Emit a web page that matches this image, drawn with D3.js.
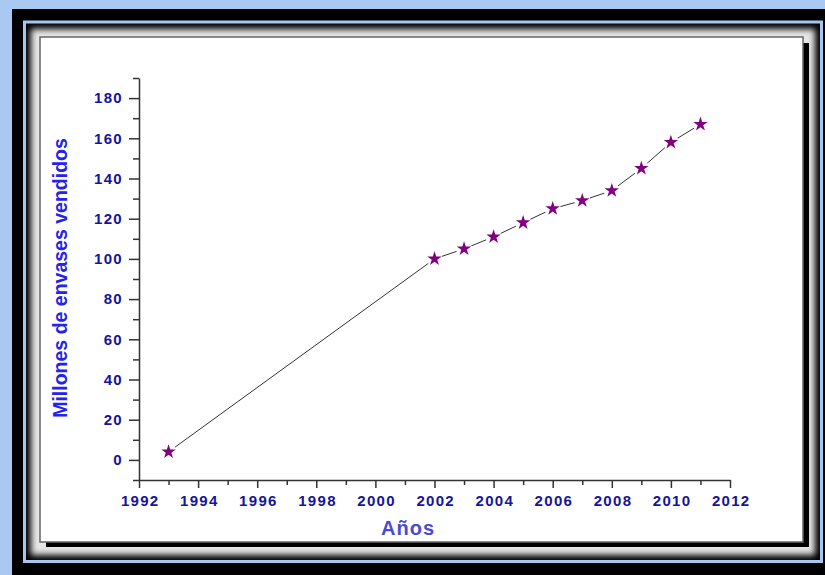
<!DOCTYPE html>
<html>
<head>
<meta charset="utf-8">
<script src="https://cdn.jsdelivr.net/npm/d3@7/dist/d3.min.js"></script>
<style>
  html, body { margin: 0; padding: 0; background: #a9c9f2; }
  svg { display: block; }
  text { font-family: "Liberation Sans", Arial, sans-serif; }
</style>
</head>
<body>
<svg id="chart" width="825" height="575"></svg>
<script>
// Sales of containers, in millions, per year
const years = [1993, 2002, 2003, 2004, 2005, 2006, 2007, 2008, 2009, 2010, 2011];
const sales = [4, 100, 105, 111, 118, 125, 129, 134, 145, 158, 167];

const yMajorTicks = [0, 20, 40, 60, 80, 100, 120, 140, 160, 180];
const yMinorTicks = [-10, 10, 30, 50, 70, 90, 110, 130, 150, 170, 190];
const xMajorTicks = [1992, 1994, 1996, 1998, 2000, 2002, 2004, 2006, 2008, 2010, 2012];
const xMinorTicks = [1993, 1995, 1997, 1999, 2001, 2003, 2005, 2007, 2009, 2011];

const xTitle = "Años";
const yTitle = "Millones de envases vendidos";

const svg = d3.select("#chart");
const defs = svg.append("defs");

// ---- decorative frame ----
defs.append("filter").attr("id", "soft")
  .attr("x", "-5%").attr("y", "-5%").attr("width", "110%").attr("height", "110%")
  .append("feGaussianBlur").attr("stdDeviation", 3);

svg.append("rect").attr("x", 0).attr("y", 0).attr("width", 825).attr("height", 575).attr("fill", "#a9c9f2");
svg.append("rect").attr("x", 12).attr("y", 9).attr("width", 830).attr("height", 580).attr("fill", "#000");
svg.append("rect").attr("x", 24.5).attr("y", 22).attr("width", 797).attr("height", 539.5)
  .attr("fill", "none").attr("stroke", "#a4c6f0").attr("stroke-width", 3);
svg.append("rect").attr("x", 31).attr("y", 29).attr("width", 784).attr("height", 526)
  .attr("fill", "#e6e6e6").attr("filter", "url(#soft)");
svg.append("rect").attr("x", 46).attr("y", 43).attr("width", 763).attr("height", 504).attr("fill", "#000");
svg.append("rect").attr("x", 40).attr("y", 37).attr("width", 763).attr("height", 505)
  .attr("fill", "#fff").attr("stroke", "#666").attr("stroke-width", 1.5);

// ---- scales ----
const x = d3.scaleLinear().domain([1992, 2012]).range([139, 730]);
const y = d3.scaleLinear().domain([-10, 190]).range([480, 78]);

const axisColor = "#333";
const labelColor = "#14149c";

function styleAxis(g) {
  g.select(".domain").attr("stroke", axisColor).attr("stroke-width", 1.5);
  g.selectAll(".tick line").attr("stroke", axisColor).attr("stroke-width", 1.5);
  g.selectAll(".tick text")
    .attr("fill", labelColor)
    .attr("font-size", 15)
    .attr("font-weight", "bold")
    .attr("letter-spacing", "1.3px");
}

// y axis: minor then major ticks
svg.append("g").attr("transform", `translate(${x(1992)},0)`)
  .call(d3.axisLeft(y).tickValues(yMinorTicks).tickSize(6).tickSizeOuter(0).tickFormat(""))
  .call(styleAxis);
svg.append("g").attr("transform", `translate(${x(1992)},0)`)
  .call(d3.axisLeft(y).tickValues(yMajorTicks).tickSize(10).tickSizeOuter(0).tickPadding(6).tickFormat(d3.format("d")))
  .call(styleAxis)
  .call(g => g.select(".domain").remove());

// x axis: minor then major ticks
svg.append("g").attr("transform", `translate(0,${y(-10)})`)
  .call(d3.axisBottom(x).tickValues(xMinorTicks).tickSize(5).tickSizeOuter(0).tickFormat(""))
  .call(styleAxis);
svg.append("g").attr("transform", `translate(0,${y(-10)})`)
  .call(d3.axisBottom(x).tickValues(xMajorTicks).tickSize(8).tickSizeOuter(0).tickPadding(7).tickFormat(d3.format("d")))
  .call(styleAxis)
  .call(g => g.select(".domain").remove())
  .call(g => g.selectAll(".tick text").attr("dx", "0.7px"));

// ---- titles ----
svg.append("text")
  .attr("transform", `translate(67,278) rotate(-90)`)
  .attr("text-anchor", "middle")
  .attr("font-size", 19.5).attr("font-weight", "bold")
  .attr("fill", "#2323ee")
  .text(yTitle);

svg.append("text")
  .attr("x", 408).attr("y", 535)
  .attr("text-anchor", "middle")
  .attr("font-size", 20).attr("font-weight", "bold")
  .attr("letter-spacing", "1px")
  .attr("fill", "#4b4bcf")
  .text(xTitle);

// ---- data line with gaps around the markers ----
const points = years.map((yr, i) => ({ yr, v: sales[i] }));

const mask = defs.append("mask").attr("id", "gaps").attr("maskUnits", "userSpaceOnUse")
  .attr("x", 0).attr("y", 0).attr("width", 825).attr("height", 575);
mask.append("rect").attr("x", 0).attr("y", 0).attr("width", 825).attr("height", 575).attr("fill", "#fff");
mask.selectAll("circle").data(points).join("circle")
  .attr("cx", d => x(d.yr)).attr("cy", d => y(d.v)).attr("r", 8).attr("fill", "#000");

const line = d3.line().x(d => x(d.yr)).y(d => y(d.v));
svg.append("path").datum(points)
  .attr("d", line)
  .attr("fill", "none")
  .attr("stroke", "#333")
  .attr("stroke-width", 1)
  .attr("mask", "url(#gaps)");

// ---- star markers ----
const star = d3.symbol().type(d3.symbolStar).size(65);
svg.append("g").selectAll("path").data(points).join("path")
  .attr("transform", d => `translate(${x(d.yr)},${y(d.v)})`)
  .attr("d", star)
  .attr("fill", "#800080");
</script>
</body>
</html>
